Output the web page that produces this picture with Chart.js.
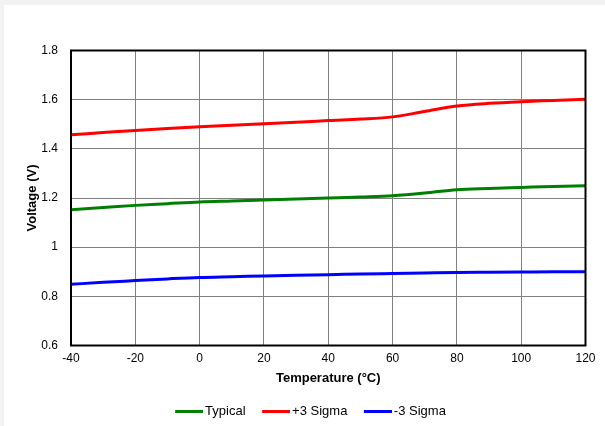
<!DOCTYPE html>
<html>
<head>
<meta charset="utf-8">
<script src="https://cdn.jsdelivr.net/npm/chart.js@4.4.1/dist/chart.umd.min.js"></script>
<style>
  html, body { margin: 0; padding: 0; background: #f2f2f2; }
  #panel { position: absolute; left: 4px; top: 5px; width: 601px; height: 421px; background: #fff; overflow: hidden; }
</style>
</head>
<body>
<div id="panel"><canvas id="chart" width="601" height="423"></canvas></div>
<script>
/* ========= DATA ========= */

const temps = [-40, -30, -20, -10, 0, 10, 20, 30, 40, 50, 60, 70, 80, 90, 100, 110, 120];
const typical = [1.152, 1.161, 1.170, 1.177, 1.184, 1.188, 1.192, 1.196, 1.200, 1.204, 1.209, 1.220, 1.234, 1.239, 1.243, 1.247, 1.250];
const plus3Sigma = [1.457, 1.466, 1.475, 1.483, 1.490, 1.496, 1.502, 1.508, 1.515, 1.521, 1.530, 1.552, 1.574, 1.585, 1.592, 1.597, 1.602];
const minus3Sigma = [0.849, 0.857, 0.864, 0.871, 0.877, 0.880, 0.883, 0.886, 0.888, 0.891, 0.893, 0.895, 0.897, 0.898, 0.899, 0.900, 0.900];

const xTicks = [-40, -20, 0, 20, 40, 60, 80, 100, 120];
const yTicks = [0.6, 0.8, 1, 1.2, 1.4, 1.6, 1.8];

function toPoints(values) {
  return temps.map((t, i) => ({ x: t, y: values[i] }));
}

/* ========= CHART ========= */

const FONT = "'Liberation Sans', Arial, sans-serif";

// legend marker: a short line sitting close to its label
function legendLine(color) {
  const c = document.createElement("canvas");
  c.width = 33;
  c.height = 3;
  const g = c.getContext("2d");
  g.fillStyle = color;
  g.fillRect(5, 0, 28, 3);
  return c;
}

// black frame round the plot area
const frame = {
  id: "frame",
  afterLayout(chart) {
    // nudge the legend a bit right, like the original
    chart.legend.left += 5;
    chart.legend.right += 5;
  },
  afterDatasetsDraw(chart) {
    const a = chart.chartArea;
    const ctx = chart.ctx;
    ctx.save();
    ctx.strokeStyle = "#000";
    ctx.lineWidth = 2;
    ctx.strokeRect(a.left, a.top, a.right - a.left, a.bottom - a.top);
    ctx.restore();
  }
};

function series(label, values, color) {
  return {
    label: label,
    data: toPoints(values),
    borderColor: color,
    backgroundColor: color,
    borderWidth: 3,
    pointRadius: 0,
    cubicInterpolationMode: "monotone"
  };
}

new Chart(document.getElementById("chart"), {
  type: "line",
  data: {
    datasets: [
      series("Typical", typical, "#008000"),
      series("+3 Sigma", plus3Sigma, "#ff0000"),
      series("-3 Sigma", minus3Sigma, "#0000ff")
    ]
  },
  options: {
    responsive: false,
    animation: false,
    layout: { padding: { left: 21, right: 19.5, top: 45.5, bottom: 0 } },
    plugins: {
      tooltip: { enabled: false },
      legend: {
        position: "bottom",
        labels: {
          font: { family: FONT, size: 13 },
          color: "#000",
          usePointStyle: true,
          pointStyleWidth: 24,
          boxWidth: 24,
          boxHeight: 3,
          padding: 16,
          generateLabels: (chart) => {
            const items = Chart.defaults.plugins.legend.labels.generateLabels(chart);
            items.forEach(it => { it.pointStyle = legendLine(it.strokeStyle); });
            return items;
          }
        }
      }
    },
    scales: {
      x: {
        type: "linear",
        min: -40,
        max: 120,
        afterBuildTicks: (axis) => { axis.ticks = xTicks.map(v => ({ value: v })); },
        afterFit: (axis) => { axis.height = 43.5; },
        grid: { color: "#808080", lineWidth: 1, drawTicks: false },
        border: { display: false },
        ticks: { font: { family: FONT, size: 12 }, color: "#000", padding: 6, maxRotation: 0 },
        title: {
          display: true,
          text: "Temperature (°C)",
          font: { family: FONT, size: 13, weight: "bold" },
          color: "#000",
          padding: { top: 5, bottom: 3 }
        }
      },
      y: {
        min: 0.6,
        max: 1.8,
        afterBuildTicks: (axis) => { axis.ticks = yTicks.map(v => ({ value: v })); },
        afterFit: (axis) => { axis.width = 46; },
        grid: { color: "#808080", lineWidth: 1, drawTicks: false },
        border: { display: false },
        ticks: {
          font: { family: FONT, size: 12 },
          color: "#000",
          padding: 13,
          callback: (v) => String(v)
        },
        title: {
          display: true,
          text: "Voltage (V)",
          font: { family: FONT, size: 13, weight: "bold" },
          color: "#000",
          padding: { top: 0, bottom: 4 }
        }
      }
    }
  },
  plugins: [frame]
});
</script>
</body>
</html>
